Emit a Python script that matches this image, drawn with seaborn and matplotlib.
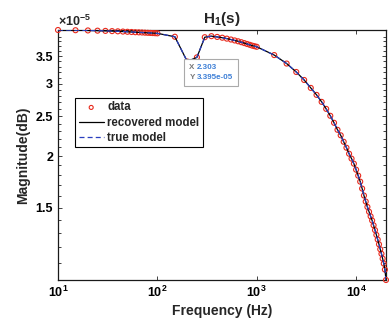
import numpy as np
import pandas as pd
import seaborn as sns
import matplotlib
matplotlib.use("Agg")
import matplotlib.pyplot as plt
from matplotlib.ticker import FixedLocator, NullLocator, NullFormatter
from matplotlib.offsetbox import TextArea, HPacker, VPacker, AnnotationBbox

# ---- data ----
freq_hz = [10, 15, 20, 25, 30, 35, 40, 45, 50, 55, 60, 65, 70, 75, 80, 85, 90, 95, 100,
           150, 200, 250, 300, 350, 400, 450, 500, 550, 600, 650, 700, 750, 800, 850,
           900, 950, 1000,
           1500, 2000, 2500, 3000, 3500, 4000, 4500, 5000, 5500, 6000, 6500, 7000, 7500,
           8000, 8500, 9000, 9500, 10000, 10500, 11000, 11500, 12000, 12500, 13000,
           13500, 14000, 14500, 15000, 15500, 16000, 16500, 17000, 17500, 18000, 18500,
           19000, 19500, 20000]
mag_data = [4.050, 4.045, 4.040, 4.035, 4.030, 4.025, 4.020, 4.015, 4.010, 4.005, 4.000,
            3.997, 3.994, 3.990, 3.987, 3.984, 3.981, 3.978, 3.975,
            3.900, 3.395, 3.475, 3.890, 3.913, 3.896, 3.879, 3.859, 3.840, 3.820, 3.802,
            3.783, 3.764, 3.745, 3.728, 3.711, 3.699, 3.687,
            3.520, 3.357, 3.202, 3.062, 2.929, 2.817, 2.709, 2.605, 2.506, 2.410, 2.317,
            2.247, 2.167, 2.096, 2.027, 1.972, 1.917, 1.854, 1.793, 1.734, 1.668, 1.604,
            1.551, 1.505, 1.465, 1.428, 1.395, 1.358, 1.322, 1.287, 1.254, 1.221, 1.188,
            1.158, 1.127, 1.096, 1.060, 1.000]
mag_recovered = list(mag_data)
mag_true = list(mag_data)
scale = 1e-5

y_major = [1.5, 2.0, 2.5, 3.0, 3.5]
y_major_labels = ["1.5", "2", "2.5", "3", "3.5"]
x_major = [10, 100, 1000, 10000]
x_major_labels = [r"$\mathbf{10^{1}}$", r"$\mathbf{10^{2}}$", r"$\mathbf{10^{3}}$", r"$\mathbf{10^{4}}$"]
tip_x_text = "2.303"
tip_y_text = "3.395e-05"
tip_freq = 200
tip_mag = 3.395

df = pd.DataFrame({
    "f": freq_hz,
    "data": np.array(mag_data) * scale,
    "rec": np.array(mag_recovered) * scale,
    "true": np.array(mag_true) * scale,
})

sns.set_style("ticks")
plt.rcParams["font.family"] = ["Liberation Sans", "DejaVu Sans"]
plt.rcParams["font.weight"] = "bold"
plt.rcParams["mathtext.fontset"] = "custom"
plt.rcParams["mathtext.bf"] = "Liberation Sans:bold"
plt.rcParams["mathtext.rm"] = "Liberation Sans"

fig = plt.figure(figsize=(3.89, 3.26), dpi=100)
ax = fig.add_axes([58 / 389, 1 - 280 / 326, (386 - 58) / 389, (280 - 30) / 326])

sns.scatterplot(data=df, x="f", y="data", ax=ax, marker="o", s=13,
                facecolors="none", edgecolor="#e8291c", linewidth=0.8,
                label="data", clip_on=False, zorder=3)
sns.lineplot(data=df, x="f", y="rec", ax=ax, color="black", linewidth=0.9,
             label="recovered model", zorder=4)
sns.lineplot(data=df, x="f", y="true", ax=ax, color="#2a3fbf", linewidth=0.9,
             linestyle=(0, (4, 2.5)), label="true model", zorder=5)

ax.set_xscale("log")
ax.set_yscale("log")
ax.set_xlim(10, 20000)
ax.set_ylim(1.0e-5, 4.05e-5)

ax.xaxis.set_major_locator(FixedLocator(x_major))
ax.set_xticklabels(x_major_labels)
ax.xaxis.set_minor_locator(NullLocator())
ax.yaxis.set_major_locator(FixedLocator([v * scale for v in y_major]))
ax.set_yticklabels(y_major_labels)
minors = [round(1.1 + 0.1 * i, 2) for i in range(29)]
minors = [m for m in minors if m not in y_major]
ax.yaxis.set_minor_locator(FixedLocator([m * scale for m in minors]))
ax.yaxis.set_minor_formatter(NullFormatter())

ax.tick_params(which="both", direction="in", top=True, right=True, labelsize=9,
               width=0.6, colors="#222222", labelcolor="black", pad=3.5)
ax.tick_params(which="major", length=3)
ax.tick_params(which="minor", length=2)
for lab in ax.get_xticklabels() + ax.get_yticklabels():
    lab.set_fontweight("bold")
for s in ax.spines.values():
    s.set_linewidth(0.9)
    s.set_color("#1a1a1a")

ax.set_xlabel("Frequency (Hz)", fontsize=10, fontweight="bold", labelpad=3)
ax.set_ylabel("Magnitude(dB)", fontsize=10, fontweight="bold", labelpad=4)
ax.set_title(r"H$_\mathbf{1}$(s)", fontsize=11, fontweight="bold", pad=5)

ax.text(0.0, 1.003, r"$\mathbf{\times 10^{-5}}$", transform=ax.transAxes,
        fontsize=9, ha="left", va="bottom")

leg = ax.legend(loc="upper left", bbox_to_anchor=(0.052, 0.728), fontsize=8.3,
                frameon=True, fancybox=False, edgecolor="black", framealpha=1,
                handlelength=2.2, borderpad=0.3, labelspacing=0.28, handletextpad=0.3,
                borderaxespad=0, markerscale=0.8)
leg.get_frame().set_linewidth(0.8)
for t in leg.get_texts():
    t.set_fontweight("bold")

# data tip
ax.plot([tip_freq], [tip_mag * scale], marker="s", ms=2, color="black", zorder=6)
gray = "#777777"
blue = "#3d7fd6"
row1 = HPacker(children=[TextArea("X", textprops=dict(color=gray, fontsize=5.8)),
                         TextArea(tip_x_text, textprops=dict(color=blue, fontsize=5.8))],
               sep=1.5, pad=0)
row2 = HPacker(children=[TextArea("Y", textprops=dict(color=gray, fontsize=5.8)),
                         TextArea(tip_y_text, textprops=dict(color=blue, fontsize=5.8))],
               sep=1.5, pad=0)
box = VPacker(children=[row1, row2], sep=2.5, pad=0, align="left")
ab = AnnotationBbox(box, (tip_freq, tip_mag * scale), xybox=(1.5, -1.5),
                    xycoords="data", boxcoords="offset points", box_alignment=(0, 1),
                    frameon=True, pad=0.35,
                    bboxprops=dict(edgecolor="#aaaaaa", facecolor="white", linewidth=0.8,
                                   boxstyle="square,pad=0.35"), zorder=7)
ax.add_artist(ab)

fig.savefig("out.png", dpi=100)
